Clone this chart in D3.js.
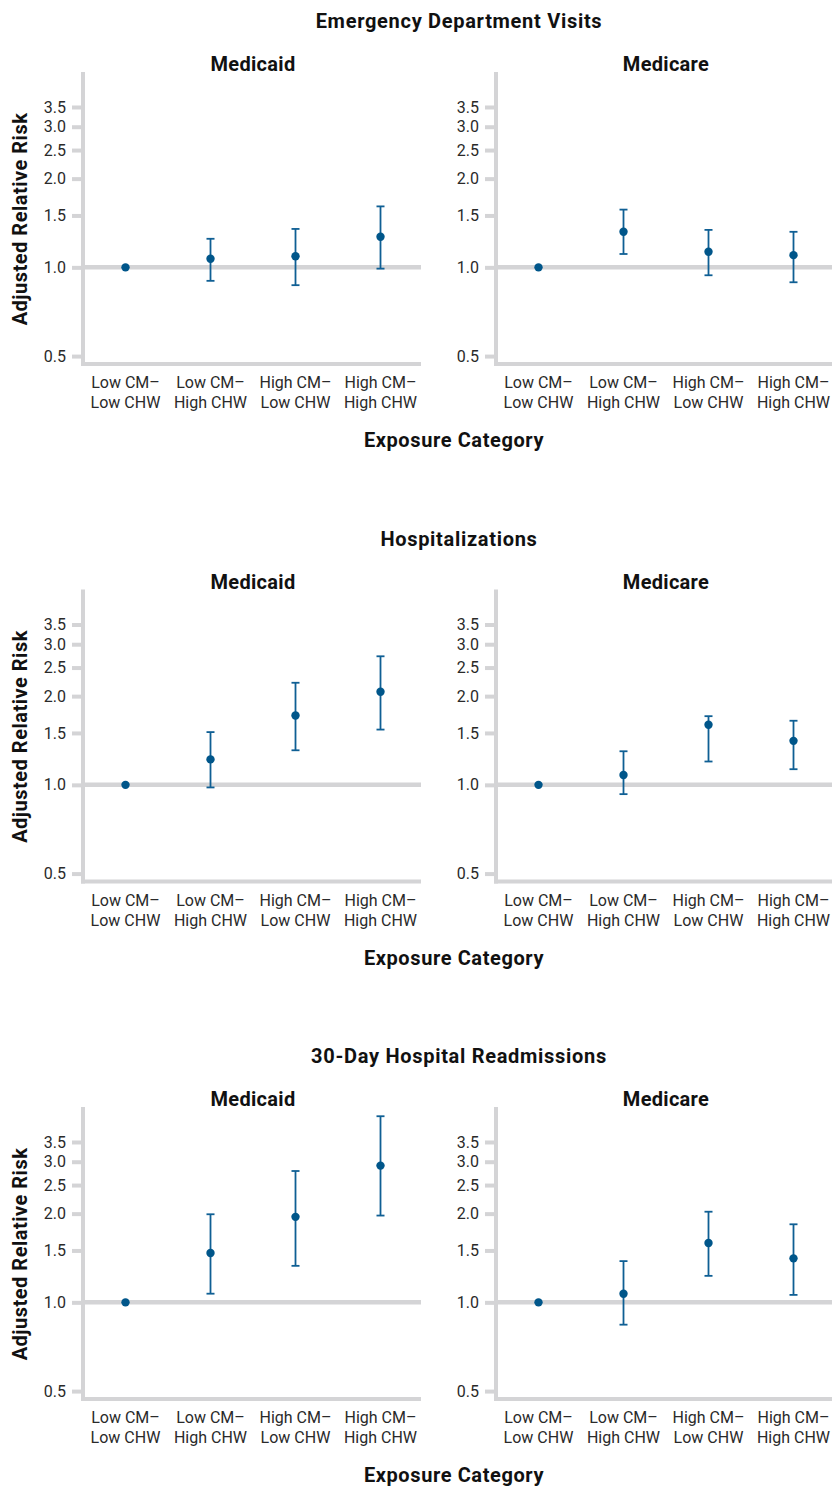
<!DOCTYPE html>
<html>
<head>
<meta charset="utf-8">
<script src="https://cdn.jsdelivr.net/npm/d3@7"></script>
<style>
  html, body { margin: 0; padding: 0; background: #fff; }
  svg { display: block; }
  text { font-family: Roboto, "Noto Sans", sans-serif; }
</style>
</head>
<body>
<svg id="chart" width="832" height="1487"></svg>
<script>
// Exposure categories (two-line labels)
const categories = [
  ["Low CM–", "Low CHW"],
  ["Low CM–", "High CHW"],
  ["High CM–", "Low CHW"],
  ["High CM–", "High CHW"]
];
const outcomes = ["Emergency Department Visits", "Hospitalizations", "30-Day Hospital Readmissions"];
const payers = ["Medicaid", "Medicare"];
const yTicks = [0.5, 1.0, 1.5, 2.0, 2.5, 3.0, 3.5];

// Adjusted relative risk estimates, in category order (reference = first category)
const edMedicaidRR   = [1.00, 1.07, 1.09, 1.27];
const edMedicaidLo   = [null, 0.90, 0.87, 0.99];
const edMedicaidHi   = [null, 1.25, 1.35, 1.61];
const edMedicareRR   = [1.00, 1.32, 1.13, 1.10];
const edMedicareLo   = [null, 1.11, 0.94, 0.89];
const edMedicareHi   = [null, 1.57, 1.34, 1.32];

const hospMedicaidRR = [1.00, 1.22, 1.72, 2.07];
const hospMedicaidLo = [null, 0.98, 1.31, 1.54];
const hospMedicaidHi = [null, 1.51, 2.22, 2.73];
const hospMedicareRR = [1.00, 1.08, 1.60, 1.41];
const hospMedicareLo = [null, 0.93, 1.20, 1.13];
const hospMedicareHi = [null, 1.30, 1.71, 1.65];

const readMedicaidRR = [1.00, 1.47, 1.95, 2.91];
const readMedicaidLo = [null, 1.07, 1.33, 1.97];
const readMedicaidHi = [null, 1.99, 2.79, 4.28];
const readMedicareRR = [1.00, 1.07, 1.59, 1.41];
const readMedicareLo = [null, 0.84, 1.23, 1.06];
const readMedicareHi = [null, 1.38, 2.03, 1.84];

const panelData = [
  [[edMedicaidRR, edMedicaidLo, edMedicaidHi], [edMedicareRR, edMedicareLo, edMedicareHi]],
  [[hospMedicaidRR, hospMedicaidLo, hospMedicaidHi], [hospMedicareRR, hospMedicareLo, hospMedicareHi]],
  [[readMedicaidRR, readMedicaidLo, readMedicaidHi], [readMedicareRR, readMedicareLo, readMedicareHi]]
];

const svg = d3.select("#chart");
const GRID = "#d4d4d6";
const BLUE = "#0f5f94";
const DOT = "#00568a";
const TITLE_SIZE = 20;
const LABEL_SIZE = 16;
const rowStep = 517.5;
const panelLefts = [83, 496];
const panelW = 340;
const lineEnds = [421, 832];

outcomes.forEach((title, r) => {
  const g = svg.append("g").attr("transform", `translate(0,${r * rowStep})`);
  const top = 72, bottom = 364;

  g.append("text")
    .attr("x", 459).attr("y", 28)
    .attr("text-anchor", "middle")
    .attr("font-weight", 700).attr("font-size", TITLE_SIZE)
    .attr("letter-spacing", 0.7)
    .attr("fill", "#111")
    .text(title);

  g.append("text")
    .attr("transform", "translate(27,219) rotate(-90)")
    .attr("text-anchor", "middle")
    .attr("font-weight", 700).attr("font-size", TITLE_SIZE)
    .attr("letter-spacing", 0.5)
    .attr("fill", "#111")
    .text("Adjusted Relative Risk");

  g.append("text")
    .attr("x", 454).attr("y", 447)
    .attr("text-anchor", "middle")
    .attr("font-weight", 700).attr("font-size", TITLE_SIZE)
    .attr("letter-spacing", 0.6)
    .attr("fill", "#111")
    .text("Exposure Category");

  payers.forEach((payer, p) => {
    const left = panelLefts[p];
    const [rr, lo, hi] = panelData[r][p];

    const x = d3.scaleBand()
      .domain(d3.range(categories.length))
      .range([left, left + panelW]);
    const y = d3.scaleLog().domain([0.47, 4.6]).range([bottom, top]);

    const pg = g.append("g");

    pg.append("text")
      .attr("x", left + panelW / 2).attr("y", 71)
      .attr("text-anchor", "middle")
      .attr("font-weight", 700).attr("font-size", TITLE_SIZE)
      .attr("letter-spacing", 0.3)
      .attr("fill", "#111")
      .text(payer);

    // y axis with ticks
    const yAxis = d3.axisLeft(y)
      .tickValues(yTicks)
      .tickFormat(d3.format(".1f"))
      .tickSize(11)
      .tickPadding(6);
    const ya = pg.append("g").attr("transform", `translate(${left},0)`).call(yAxis);
    ya.select(".domain").remove();
    ya.selectAll(".tick line").attr("stroke", GRID).attr("stroke-width", 4);
    ya.selectAll(".tick text")
      .attr("font-size", LABEL_SIZE).attr("fill", "#2a2a2a")
      .attr("font-family", "Roboto, sans-serif");

    // reference line at 1.0
    pg.append("line")
      .attr("x1", left).attr("x2", lineEnds[p])
      .attr("y1", y(1)).attr("y2", y(1))
      .attr("stroke", GRID).attr("stroke-width", 4.5);

    // axis frame
    pg.append("line")
      .attr("x1", left).attr("x2", left)
      .attr("y1", top).attr("y2", bottom + 2)
      .attr("stroke", GRID).attr("stroke-width", 4);
    pg.append("line")
      .attr("x1", left - 2).attr("x2", lineEnds[p])
      .attr("y1", bottom).attr("y2", bottom)
      .attr("stroke", GRID).attr("stroke-width", 4);

    // x category labels
    const xl = pg.append("g");
    categories.forEach((lines, i) => {
      const cxl = x(i) + x.bandwidth() / 2;
      const t = xl.append("text")
        .attr("x", cxl)
        .attr("y", 388)
        .attr("text-anchor", "middle")
        .attr("font-size", LABEL_SIZE).attr("fill", "#2a2a2a");
      t.append("tspan").attr("x", cxl).attr("dy", 0).text(lines[0]);
      t.append("tspan").attr("x", cxl).attr("dy", 20).text(lines[1]);
    });

    // error bars
    const cx = i => x(i) + x.bandwidth() / 2;
    const idx = d3.range(rr.length).filter(i => lo[i] != null);
    const eb = pg.append("g").attr("stroke", BLUE).attr("stroke-width", 1.8).attr("fill", "none");
    eb.selectAll("line.v").data(idx).join("line")
      .attr("x1", cx).attr("x2", cx)
      .attr("y1", i => y(lo[i])).attr("y2", i => y(hi[i]));
    eb.selectAll("line.t").data(idx).join("line")
      .attr("x1", i => cx(i) - 4).attr("x2", i => cx(i) + 4)
      .attr("y1", i => y(hi[i])).attr("y2", i => y(hi[i]));
    eb.selectAll("line.b").data(idx).join("line")
      .attr("x1", i => cx(i) - 4).attr("x2", i => cx(i) + 4)
      .attr("y1", i => y(lo[i])).attr("y2", i => y(lo[i]));

    // point estimates
    pg.append("g").selectAll("circle").data(d3.range(rr.length)).join("circle")
      .attr("cx", cx)
      .attr("cy", i => y(rr[i]))
      .attr("r", 4.2)
      .attr("fill", DOT);
  });
});
</script>
</body>
</html>
